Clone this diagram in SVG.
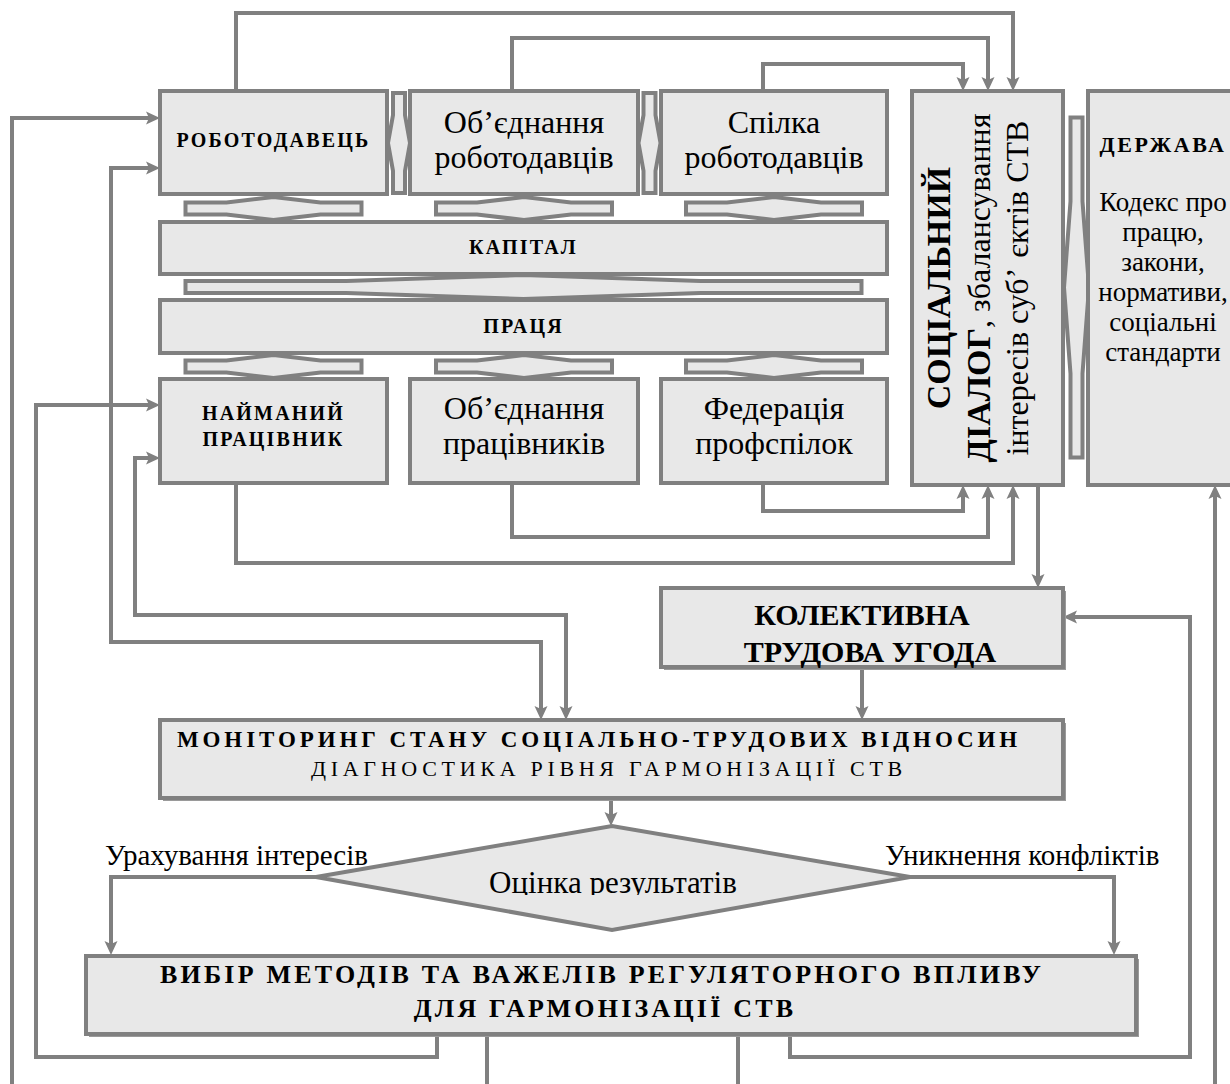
<svg xmlns="http://www.w3.org/2000/svg" xmlns:xlink="http://www.w3.org/1999/xlink" width="1230" height="1084" viewBox="0 0 1230 1084">
  <style>
    .box { fill: #e8e8e8; stroke: #808080; stroke-width: 4; }
    .shadow { fill: #9a9a9a; stroke: none; }
    .dbl { fill: #e8e8e8; stroke: #808080; stroke-width: 4; stroke-linejoin: miter; }
    .conn { fill: none; stroke: #808080; stroke-width: 4; }
    .conn.a { marker-end: url(#ah); }
    .conn.aa { marker-start: url(#ah); marker-end: url(#ah); }
    text { font-family: "Liberation Serif", "Times New Roman", serif; fill: #000; }
    .cap { font-size: 20px; font-weight: bold; letter-spacing: 2.2px; text-anchor: middle; }
    .reg { font-size: 32px; text-anchor: middle; }
    .sd-b { font-size: 34px; font-weight: bold; }
    .sd-r { font-size: 32px; font-weight: normal; }
    .state-h { font-size: 22px; font-weight: bold; letter-spacing: 2.5px; text-anchor: middle; }
    .state { font-size: 27px; text-anchor: middle; }
    .big { font-size: 30px; font-weight: bold; text-anchor: middle; }
    .mon1 { font-size: 23px; font-weight: bold; letter-spacing: 3.9px; text-anchor: middle; }
    .mon2 { font-size: 22px; letter-spacing: 4.7px; text-anchor: middle; }
    .lbl { font-size: 29px; }
    .eval { font-size: 31px; text-anchor: middle; }
    .choice { font-size: 26px; font-weight: bold; letter-spacing: 3.2px; text-anchor: middle; }
  </style>
  <defs>
    <!-- notched arrowhead; line ends at the notch, tip sits 11px further -->
    <marker id="ah" markerUnits="userSpaceOnUse" viewBox="-4 -8 16 16" markerWidth="16" markerHeight="16" refX="0" refY="0" orient="auto-start-reverse">
      <path d="M11,0 L-3,-6.5 L0,0 L-3,6.5 Z" fill="#808080"/>
    </marker>
    <!-- two-way block arrows: thin bars with a hexagonal middle -->
    <path id="dblH" d="M-88,-6 L-47,-6 L0,-11.5 L47,-6 L88,-6 L88,6 L47,6 L0,11.5 L-47,6 L-88,6 Z"/>
    <path id="dblHL" d="M-338,-6 L-177,-6 L0,-12 L177,-6 L338,-6 L338,6 L177,6 L0,12 L-177,6 L-338,6 Z"/>
    <path id="dblV" d="M-6,-50 L-6,-28 L-11,0 L-6,28 L-6,50 L6,50 L6,28 L11,0 L6,-28 L6,-50 Z"/>
    <path id="dblVL" d="M-6,-170 L-6,-86 L-12.5,0 L-6,86 L-6,170 L6,170 L6,86 L12.5,0 L6,-86 L6,-170 Z"/>
    <clipPath id="evalClip">
      <rect x="400" y="860" width="430" height="35"/>
    </clipPath>
  </defs>

  <!-- connectors -->
  <g id="connectors">
    <path class="conn a" d="M236,91 V13 H1013 V80"/>
    <path class="conn a" d="M512,91 V38 H988 V80"/>
    <path class="conn a" d="M763,91 V64 H963 V80"/>
    <path class="conn a" d="M236,483 V563 H1013 V496"/>
    <path class="conn a" d="M512,483 V537 H988 V496"/>
    <path class="conn a" d="M763,483 V511 H963 V496"/>
    <path class="conn a" d="M1038,485 V577"/>
    <path class="conn a" d="M862,667 V709"/>
    <path class="conn a" d="M611,798 V815"/>
    <path class="conn a" d="M316,877 H111 V944"/>
    <path class="conn a" d="M910,877 H1114 V944"/>
    <path class="conn a" d="M437,1034 V1057 H36 V405 H149"/>
    <path class="conn" d="M487,1034 V1084"/>
    <path class="conn" d="M738,1034 V1084"/>
    <path class="conn a" d="M790,1034 V1057 H1190 V617 H1074"/>
    <path class="conn a" d="M12,1084 V118 H149"/>
    <path class="conn a" d="M1215,1084 V496"/>
    <path class="conn aa" d="M149,168 H111 V642 H541 V709"/>
    <path class="conn aa" d="M149,458 H135 V615 H566 V709"/>
  </g>

  <!-- two-way block arrows between blocks -->
  <g id="links">
    <use xlink:href="#dblV" href="#dblV" class="dbl" x="399" y="143"/>
    <use xlink:href="#dblV" href="#dblV" class="dbl" x="649.5" y="143"/>
    <use xlink:href="#dblH" href="#dblH" class="dbl" x="273.5" y="208.5"/>
    <use xlink:href="#dblH" href="#dblH" class="dbl" x="524" y="208.5"/>
    <use xlink:href="#dblH" href="#dblH" class="dbl" x="774" y="208.5"/>
    <use xlink:href="#dblHL" href="#dblHL" class="dbl" x="523.5" y="287"/>
    <use xlink:href="#dblH" href="#dblH" class="dbl" x="273.5" y="366.5"/>
    <use xlink:href="#dblH" href="#dblH" class="dbl" x="524" y="366.5"/>
    <use xlink:href="#dblH" href="#dblH" class="dbl" x="774" y="366.5"/>
    <use xlink:href="#dblVL" href="#dblVL" class="dbl" x="1076.5" y="287.5"/>
  </g>

  <g id="employer">
    <rect class="box" x="160" y="91" width="227" height="103"/>
    <text class="cap" x="273.5" y="147">РОБОТОДАВЕЦЬ</text>
  </g>
  <g id="employers-union">
    <rect class="box" x="410" y="91" width="228" height="103"/>
    <text class="reg" x="524" y="133">Об’єднання</text>
    <text class="reg" x="524" y="168">роботодавців</text>
  </g>
  <g id="employers-league">
    <rect class="box" x="661" y="91" width="226" height="103"/>
    <text class="reg" x="774" y="133">Спілка</text>
    <text class="reg" x="774" y="168">роботодавців</text>
  </g>
  <g id="capital">
    <rect class="box" x="160" y="222" width="727" height="52"/>
    <text class="cap" x="523.5" y="254">КАПІТАЛ</text>
  </g>
  <g id="labour">
    <rect class="box" x="160" y="300" width="727" height="53"/>
    <text class="cap" x="523.5" y="333">ПРАЦЯ</text>
  </g>
  <g id="employee">
    <rect class="box" x="160" y="379" width="227" height="104"/>
    <text class="cap" x="273.5" y="420">НАЙМАНИЙ</text>
    <text class="cap" x="273.5" y="446">ПРАЦІВНИК</text>
  </g>
  <g id="workers-union">
    <rect class="box" x="410" y="379" width="228" height="104"/>
    <text class="reg" x="524" y="419">Об’єднання</text>
    <text class="reg" x="524" y="454">працівників</text>
  </g>
  <g id="trade-unions">
    <rect class="box" x="661" y="379" width="226" height="104"/>
    <text class="reg" x="774" y="419">Федерація</text>
    <text class="reg" x="774" y="454">профспілок</text>
  </g>

  <g id="social-dialogue">
    <rect class="box" x="912" y="91" width="151" height="394"/>
    <text class="sd-b" transform="translate(950,288) rotate(-90)" text-anchor="middle">СОЦІАЛЬНИЙ</text>
    <text transform="translate(990,288) rotate(-90)" text-anchor="middle"><tspan class="sd-b">ДІАЛОГ</tspan><tspan class="sd-r">, збалансування</tspan></text>
    <text class="sd-r" transform="translate(1028,288) rotate(-90)" text-anchor="middle">інтересів суб’<tspan dx="10">єктів СТВ</tspan></text>
  </g>

  <g id="state">
    <rect class="box" x="1088" y="91" width="152" height="394"/>
    <text class="state-h" x="1163" y="152">ДЕРЖАВА</text>
    <text class="state" x="1163" y="211">Кодекс про</text>
    <text class="state" x="1163" y="241">працю,</text>
    <text class="state" x="1163" y="271">закони,</text>
    <text class="state" x="1163" y="301">нормативи,</text>
    <text class="state" x="1163" y="331">соціальні</text>
    <text class="state" x="1163" y="361">стандарти</text>
  </g>

  <g id="agreement">
    <rect class="shadow" x="664" y="591" width="402" height="79"/>
    <rect class="box" x="661" y="588" width="402" height="79"/>
    <text class="big" x="862" y="625">КОЛЕКТИВНА</text>
    <text class="big" x="870" y="662">ТРУДОВА УГОДА</text>
  </g>

  <g id="monitoring">
    <rect class="shadow" x="163" y="723" width="903" height="78"/>
    <rect class="box" x="160" y="720" width="903" height="78"/>
    <text class="mon1" x="599" y="747">МОНІТОРИНГ СТАНУ СОЦІАЛЬНО-ТРУДОВИХ ВІДНОСИН</text>
    <text class="mon2" x="609" y="776">ДІАГНОСТИКА РІВНЯ ГАРМОНІЗАЦІЇ СТВ</text>
  </g>

  <g id="evaluation">
    <polygon class="box" points="316,877 612,826 910,877 612,930"/>
    <text class="eval" x="613" y="893" clip-path="url(#evalClip)">Оцінка результатів</text>
  </g>
  <text class="lbl" x="105" y="865">Урахування інтересів</text>
  <text class="lbl" x="885" y="865">Уникнення конфліктів</text>

  <g id="choice">
    <rect class="shadow" x="89" y="959" width="1050" height="78"/>
    <rect class="box" x="86" y="956" width="1050" height="78"/>
    <text class="choice" x="602" y="983">ВИБІР МЕТОДІВ ТА ВАЖЕЛІВ РЕГУЛЯТОРНОГО ВПЛИВУ</text>
    <text class="choice" x="605" y="1017">ДЛЯ ГАРМОНІЗАЦІЇ СТВ</text>
  </g>
</svg>
